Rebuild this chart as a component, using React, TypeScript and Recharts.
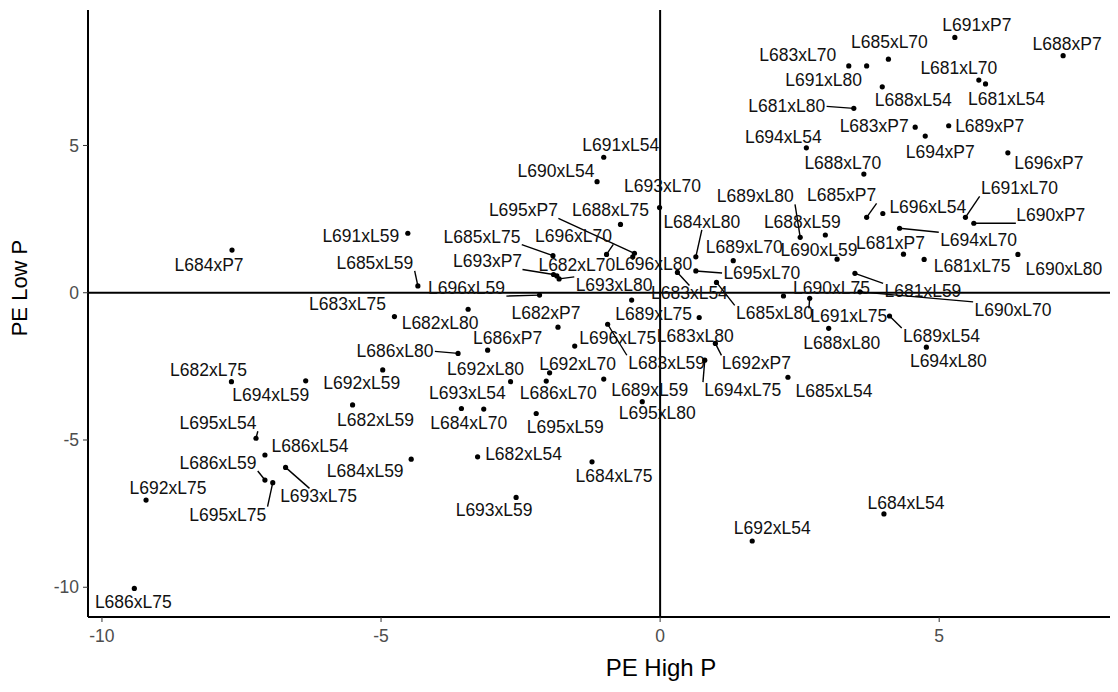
import { ScatterChart, Scatter, XAxis, YAxis, ReferenceLine } from "recharts";

// Crosses, in reading order (top right -> left -> bottom)
const NAMES = [
  "L691xP7", "L688xP7", "L683xL70", "L685xL70", "L691xL80", "L681xL70", "L681xL80", "L688xL54", "L681xL54", "L694xL54",
  "L683xP7", "L689xP7", "L694xP7", "L696xP7", "L688xL70", "L689xL80", "L685xP7", "L696xL54", "L691xL70", "L690xP7",
  "L688xL59", "L684xL80", "L689xL70", "L694xL70", "L690xL59", "L681xP7", "L681xL75", "L690xL80", "L695xL70", "L681xL59",
  "L690xL75", "L690xL70", "L685xL80", "L691xL75", "L689xL54", "L688xL80", "L694xL80", "L685xL54", "L684xL54", "L692xL54",
  "L691xL54", "L690xL54", "L693xL70", "L695xP7", "L688xL75", "L691xL59", "L685xL75", "L696xL70", "L684xP7", "L685xL59",
  "L693xP7", "L682xL70", "L696xL80", "L696xL59", "L693xL80", "L683xL54", "L682xP7", "L689xL75", "L683xL75", "L682xL80",
  "L686xP7", "L696xL75", "L683xL80", "L686xL80", "L692xL80", "L683xL59", "L692xP7", "L682xL75", "L692xL70", "L694xL59",
  "L692xL59", "L686xL70", "L689xL59", "L694xL75", "L693xL54", "L682xL59", "L684xL70", "L695xL80", "L695xL59", "L695xL54",
  "L686xL54", "L682xL54", "L686xL59", "L684xL59", "L684xL75", "L692xL75", "L693xL75", "L695xL75", "L693xL59", "L686xL75",
];

const PE_HIGH = [
  5.28, 7.22, 3.38, 4.09, 3.7, 5.71, 3.47, 3.98, 5.83, 2.62,
  4.57, 5.17, 4.75, 6.23, 3.65, 2.51, 3.7, 3.99, 5.47, 5.62,
  2.96, 0.64, 1.31, 4.29, 3.17, 4.36, 4.73, 6.41, 0.64, 3.49,
  2.21, 3.58, 1.01, 2.68, 4.11, 3.02, 4.77, 2.29, 4.01, 1.65,
  -1.01, -1.13, -0.01, -0.46, -0.71, -4.52, -1.92, -0.96, -7.67, -4.34,
  -1.91, -1.85, -0.49, -2.16, -1.81, 0.31, -1.83, -0.51, -4.76, -3.44,
  -3.09, -1.53, 0.7, -3.62, -2.68, -0.94, 0.99, -7.68, -1.98, -6.35,
  -4.97, -2.04, -1.01, 0.8, -3.56, -5.51, -3.16, -0.32, -2.22, -7.24,
  -7.08, -3.27, -7.08, -4.46, -1.22, -9.21, -6.71, -6.94, -2.58, -9.42,
];

const PE_LOW = [
  8.67, 8.05, 7.7, 7.93, 7.7, 7.22, 6.26, 6.99, 7.09, 4.92,
  5.62, 5.67, 5.32, 4.75, 4.03, 1.88, 2.56, 2.69, 2.56, 2.36,
  1.96, 1.22, 1.09, 2.19, 1.14, 1.31, 1.13, 1.3, 0.74, 0.66,
  -0.11, 0.03, 0.35, -0.19, -0.79, -1.21, -1.85, -2.87, -7.51, -8.43,
  4.6, 3.77, 2.89, 1.34, 2.32, 2.02, 1.26, 1.3, 1.45, 0.23,
  0.62, 0.57, 1.22, -0.08, 0.47, 0.69, -1.17, -0.25, -0.81, -0.56,
  -1.95, -1.81, -0.84, -2.06, -3.02, -1.07, -1.72, -3.02, -2.72, -2.99,
  -2.62, -3.0, -2.93, -2.29, -3.93, -3.81, -3.95, -3.7, -4.1, -4.94,
  -5.51, -5.57, -6.36, -5.65, -5.74, -7.04, -5.93, -6.45, -6.95, -10.04,
];

const X_TICKS = [-10, -5, 0, 5];
const Y_TICKS = [-10, -5, 0, 5];

// repelled label placement: [dx, dy, segment] in px from the point
// segment: 0 none, 1 to nearest box corner/edge middle, 2 aimed at label centre
const LABEL_NUDGE: Record<string, number[]> = {
  L691xP7: [22, -12, 0], L688xP7: [4, -12, 0], L683xL70: [-51, -11, 0], L685xL70: [1, -17, 0], L691xL80: [-43, 14, 0],
  L681xL70: [-20, -12, 0], L681xL80: [-67, -2, 1], L688xL54: [31, 13, 0], L681xL54: [21, 15, 0], L694xL54: [-23, -11, 0],
  L683xP7: [-41, -1, 0], L689xP7: [41, 0, 0], L694xP7: [15, 16, 0], L696xP7: [41, 10, 0], L688xL70: [-21, -11, 0],
  L689xL80: [-45, -41, 1], L685xP7: [-25, -22, 1], L696xL54: [45, -7, 0], L691xL70: [54, -29, 1], L690xP7: [77, -8, 1],
  L688xL59: [-23, -13, 0], L684xL80: [6, -35, 1], L689xL70: [11, -14, 0], L694xL70: [79, 12, 1], L690xL59: [-18, -9, 0],
  L681xP7: [-13, -11, 0], L681xL75: [48, 7, 0], L690xL80: [46, 15, 0], L695xL70: [66, 2, 1], L681xL59: [68, 18, 1],
  L690xL75: [48, -8, 0], L690xL70: [153, 18, 1], L685xL80: [58, 31, 1], L691xL75: [39, 18, 1], L689xL54: [52, 20, 1],
  L688xL80: [13, 15, 0], L694xL80: [22, 14, 0], L685xL54: [46, 14, 0], L684xL54: [22, -11, 0], L692xL54: [20, -13, 0],
  L691xL54: [17, -12, 0], L690xL54: [-41, -11, 0], L693xL70: [3, -22, 0], L695xP7: [-111, -43, 1], L688xL75: [-10, -14, 0],
  L691xL59: [-47, 3, 0], L685xL75: [-71, -19, 1], L696xL70: [-33, -18, 1], L684xP7: [-23, 15, 0], L685xL59: [-43, -23, 1],
  L693xP7: [-66, -13, 1], L682xL70: [20, -11, 0], L696xL80: [21, 7, 0], L696xL59: [-73, -7, 1], L693xL80: [55, 6, 1],
  L683xL54: [12, 21, 1], L682xP7: [-12, -14, 0], L689xL75: [22, 14, 0], L683xL75: [-47, -13, 0], L682xL80: [-28, 14, 0],
  L686xP7: [20, -12, 0], L696xL75: [43, -8, 0], L683xL80: [-4, 19, 0], L686xL80: [-63, -2, 1], L692xL80: [-25, -13, 0],
  L683xL59: [59, 39, 1], L692xP7: [41, 20, 1], L682xL75: [-23, -12, 0], L692xL70: [28, -9, 0], L694xL59: [-35, 14, 0],
  L692xL59: [-21, 13, 0], L686xL70: [12, 12, 0], L689xL59: [46, 11, 0], L694xL75: [38, 30, 1], L693xL54: [6, -15, 0],
  L682xL59: [23, 15, 0], L684xL70: [-15, 14, 0], L695xL80: [15, 11, 0], L695xL59: [29, 14, 0], L695xL54: [-38, -15, 1],
  L686xL54: [45, -9, 0], L682xL54: [46, -3, 0], L686xL59: [-47, -17, 1], L684xL59: [-46, 12, 0], L684xL75: [22, 14, 0],
  L692xL75: [22, -12, 0], L693xL75: [33, 29, 2], L695xL75: [-45, 32, 1], L693xL59: [-22, 13, 0], L686xL75: [-1, 14, 0],
};

const data = NAMES.map((name, i) => ({ name, x: PE_HIGH[i], y: PE_LOW[i] }));

const FONT = "'Liberation Sans', Arial, sans-serif";

function segmentEnd(cx: number, cy: number, lx: number, ly: number, hw: number, hh: number, mode: number) {
  if (mode === 2) {
    // clip the line point -> label centre at the box edge
    const vx = lx - cx;
    const vy = ly - cy;
    const t = 1 - Math.min(hw / Math.abs(vx || 1e-6), hh / Math.abs(vy || 1e-6));
    return [cx + vx * t, cy + vy * t];
  }
  let ex = lx;
  let ey = ly;
  let best = Infinity;
  for (const sx of [-1, 0, 1]) {
    for (const sy of [-1, 0, 1]) {
      if (sx === 0 && sy === 0) continue;
      const px = lx + sx * hw;
      const py = ly + sy * hh;
      const d = (px - cx) ** 2 + (py - cy) ** 2;
      if (d < best) {
        best = d;
        ex = px;
        ey = py;
      }
    }
  }
  return [ex, ey];
}

function LabelledPoint(props: any) {
  const { cx, cy, payload } = props;
  if (cx == null || cy == null) return null;
  const [dx, dy, seg] = LABEL_NUDGE[payload.name] || [0, -14, 0];
  const lx = cx + dx;
  const ly = cy + dy;
  const hw = payload.name.length * 4.85 + 1;
  const hh = 8;
  const [ex, ey] = segmentEnd(cx, cy, lx, ly, hw, hh, seg);
  return (
    <g>
      {seg ? <line x1={cx} y1={cy} x2={ex} y2={ey} stroke="#000" strokeWidth={1.4} /> : null}
      <circle cx={cx} cy={cy} r={2.6} fill="#000" />
      <text x={lx} y={ly} textAnchor="middle" dominantBaseline="central" fontSize={17.5} fill="#111">
        {payload.name}
      </text>
    </g>
  );
}

export default function App() {
  return (
    <div style={{ position: "relative", width: 1110, height: 676, fontFamily: FONT }}>
      <ScatterChart width={1110} height={676} margin={{ top: 2, right: 8, bottom: 27, left: 0 }}>
        <XAxis
          type="number"
          dataKey="x"
          domain={[-10.25, 8.06]}
          ticks={X_TICKS}
          allowDataOverflow
          height={40}
          tickSize={5}
          tickMargin={8}
          tick={{ fill: "#4d4d4d", fontSize: 17.5 }}
          tickLine={{ stroke: "#333" }}
          axisLine={{ stroke: "#000", strokeWidth: 2 }}
        />
        <YAxis
          type="number"
          dataKey="y"
          domain={[-11.01, 9.6]}
          ticks={Y_TICKS}
          allowDataOverflow
          width={80}
          tickSize={5}
          tickMargin={4}
          tick={{ fill: "#4d4d4d", fontSize: 17.5 }}
          tickLine={{ stroke: "#333" }}
          axisLine={{ stroke: "#000", strokeWidth: 2 }}
        />
        <ReferenceLine x={0} stroke="#000" strokeWidth={2} />
        <ReferenceLine y={0} stroke="#000" strokeWidth={2} />
        <Scatter data={data} shape={LabelledPoint} isAnimationActive={false} />
      </ScatterChart>
      <div
        style={{
          position: "absolute",
          left: 553,
          top: 647,
          width: 200,
          textAlign: "center",
          fontSize: 24,
          color: "#000",
          lineHeight: "26px",
        }}
      >
        PE High P
      </div>
      <div
        style={{
          position: "absolute",
          left: -88,
          top: 267,
          width: 200,
          textAlign: "center",
          fontSize: 22,
          color: "#000",
          lineHeight: "26px",
          transform: "rotate(-90deg)",
        }}
      >
        PE Low P
      </div>
    </div>
  );
}
